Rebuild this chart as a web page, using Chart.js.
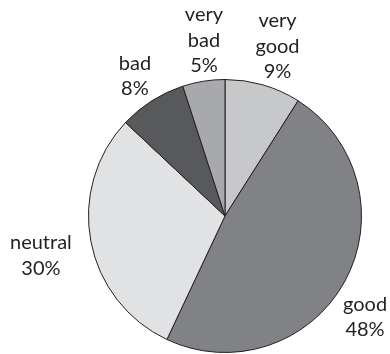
<!DOCTYPE html>
<html>
<head>
<meta charset="utf-8">
<script src="https://cdn.jsdelivr.net/npm/chart.js@4/dist/chart.umd.min.js"></script>
<style>
  html, body { margin: 0; padding: 0; background: #ffffff; }
  #wrap { width: 390px; height: 354px; position: relative; }
</style>
</head>
<body>
<div id="wrap"><canvas id="pie"></canvas></div>
<script>
// Survey answers, clockwise from 12 o'clock
const categories = ['very good', 'good', 'neutral', 'bad', 'very bad'];
const labelLines = [['very', 'good'], ['good'], ['neutral'], ['bad'], ['very', 'bad']];
const shares = [9, 48, 30, 8, 5];

// Slice fills
const sliceColors = ['#c7c8ca', '#808285', '#e1e2e3', '#58595b', '#a7a9ac'];

// Label placement around each slice: [angle nudge in degrees, distance in radii]
const labelPlacement = [[1.6, 1.258], [8.7, 1.293], [-3.2, 1.39], [-1.6, 1.18], [1.9, 1.248]];

const sliceLabels = {
  id: 'sliceLabels',
  afterDatasetsDraw(chart) {
    const ctx = chart.ctx;
    const meta = chart.getDatasetMeta(0);
    const values = chart.data.datasets[0].data;
    const lineH = 25.5;
    ctx.save();
    ctx.font = '20px Lato, "Open Sans", sans-serif';
    ctx.fillStyle = '#231f20';
    ctx.textAlign = 'center';
    ctx.textBaseline = 'alphabetic';
    meta.data.forEach((arc, i) => {
      const mid = (arc.startAngle + arc.endAngle) / 2 + labelPlacement[i][0] * Math.PI / 180;
      const dist = arc.outerRadius * labelPlacement[i][1];
      const x = arc.x + Math.cos(mid) * dist;
      const y = arc.y + Math.sin(mid) * dist;
      const lines = labelLines[i].concat([values[i] + '%']);
      const first = y - (lines.length - 1) * lineH / 2;
      lines.forEach((t, k) => ctx.fillText(t, x, first + k * lineH));
    });
    ctx.restore();
  }
};

new Chart(document.getElementById('pie'), {
  type: 'pie',
  data: {
    labels: categories,
    datasets: [{
      data: shares,
      backgroundColor: sliceColors,
      borderColor: '#231f20',
      borderWidth: 1
    }]
  },
  options: {
    responsive: true,
    maintainAspectRatio: false,
    animation: false,
    layout: { padding: { left: 88, right: 28, top: 79, bottom: 1 } },
    plugins: {
      legend: { display: false },
      tooltip: { enabled: false }
    }
  },
  plugins: [sliceLabels]
});
</script>
</body>
</html>
